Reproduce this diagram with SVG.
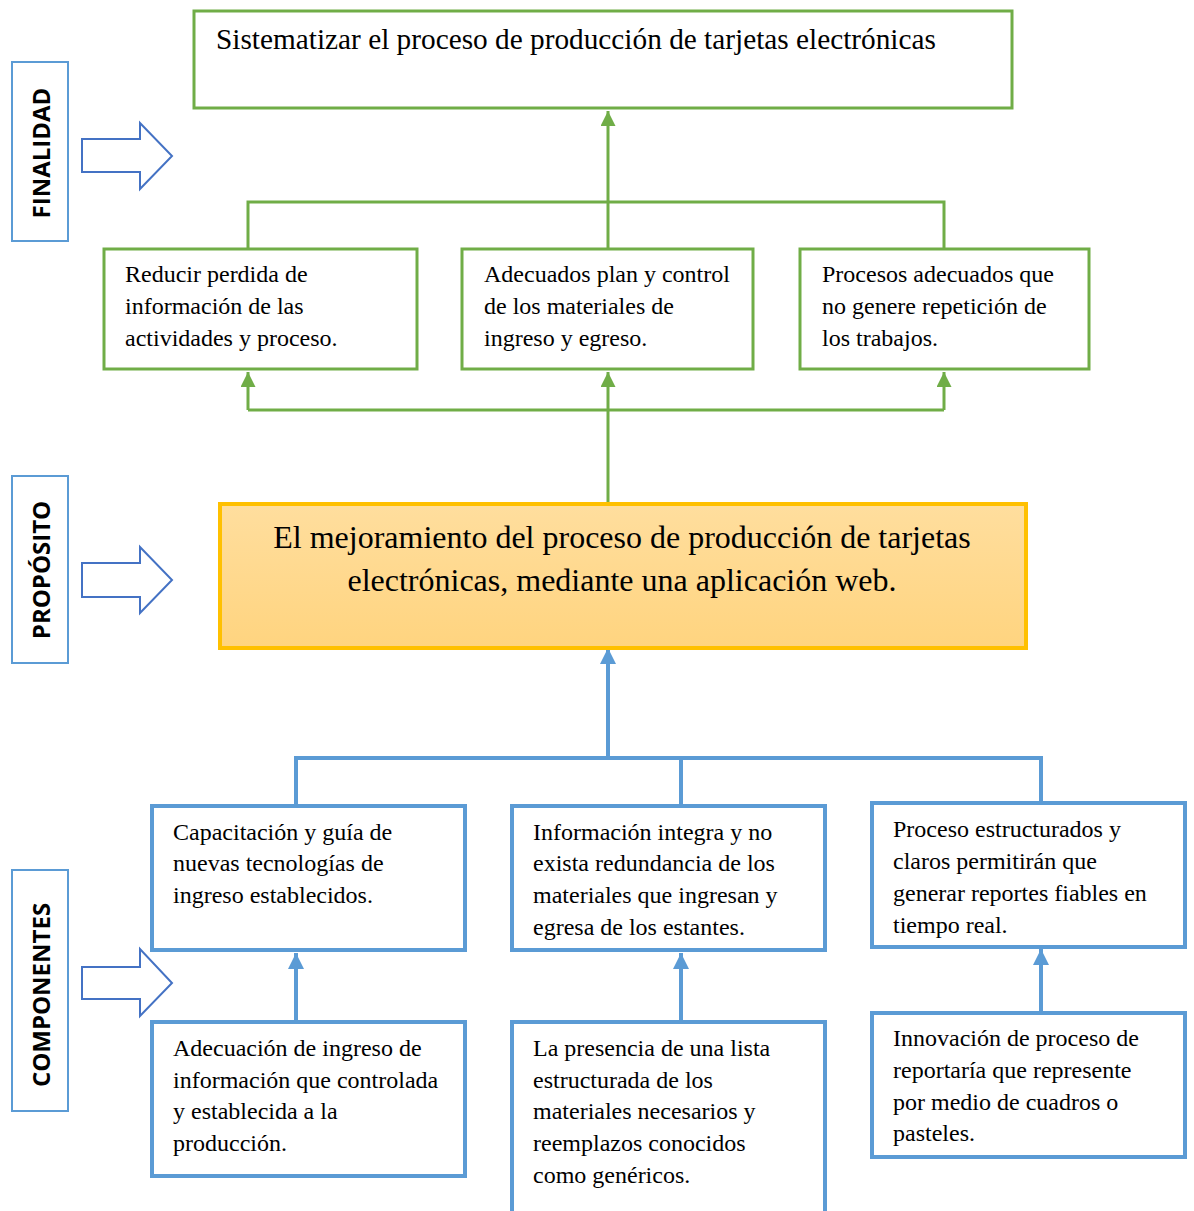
<svg xmlns="http://www.w3.org/2000/svg" width="1194" height="1211" viewBox="0 0 1194 1211">
  <style>
    .gbox { fill: #fff; stroke: #70AD47; stroke-width: 3; }
    .bbox { fill: #fff; stroke: #5B9BD5; stroke-width: 4; }
    .side { fill: #fff; stroke: #5B9BD5; stroke-width: 2; }
    .barrow { fill: #fff; stroke: #4472C4; stroke-width: 2; stroke-linejoin: miter; }
    .gline { fill: none; stroke: #70AD47; stroke-width: 3; }
    .bline { fill: none; stroke: #5B9BD5; stroke-width: 4; }
    .t { font-family: "Liberation Serif", "Times New Roman", serif; font-size: 24px; fill: #000; }
    .t-goal { font-family: "Liberation Serif", "Times New Roman", serif; font-size: 29.3px; fill: #000; }
    .t-main { font-family: "Liberation Serif", "Times New Roman", serif; font-size: 32px; fill: #000; text-anchor: middle; }
    .side-t { font-family: "Open Sans", "Liberation Sans", sans-serif; font-weight: bold; font-size: 24px; fill: #000; text-anchor: middle; }
  </style>
  <defs>
    <marker id="ga" viewBox="0 0 10 10" refX="10" refY="5" markerWidth="5" markerHeight="5" orient="auto" markerUnits="strokeWidth">
      <path d="M0,0 L10,5 L0,10 Z" fill="#70AD47"/>
    </marker>
    <marker id="ba" viewBox="0 0 10 10" refX="10" refY="5" markerWidth="4" markerHeight="4" orient="auto" markerUnits="strokeWidth">
      <path d="M0,0 L10,5 L0,10 Z" fill="#5B9BD5"/>
    </marker>
    <linearGradient id="yg" x1="0" y1="0" x2="0" y2="1">
      <stop offset="0" stop-color="#FFDE9E"/>
      <stop offset="1" stop-color="#FFD47F"/>
    </linearGradient>
  </defs>

  <!-- side labels and block arrows -->
  <g id="finalidad">
    <rect class="side" x="12" y="62" width="56" height="179"/>
    <text class="side-t" transform="translate(50,153) rotate(-90)">FINALIDAD</text>
    <path class="barrow" d="M82,139 H140 V123 L172,156 L140,189 V172 H82 Z"/>
  </g>
  <g id="proposito">
    <rect class="side" x="12" y="476" width="56" height="187"/>
    <text class="side-t" transform="translate(50,570) rotate(-90)">PROPÓSITO</text>
    <path class="barrow" d="M82,563 H140 V547 L172,580 L140,613 V597 H82 Z"/>
  </g>
  <g id="componentes">
    <rect class="side" x="12" y="870" width="56" height="241"/>
    <text class="side-t" transform="translate(50,995) rotate(-90)">COMPONENTES</text>
    <path class="barrow" d="M82,967 H140 V949 L172,983 L140,1016 V999 H82 Z"/>
  </g>

  <!-- connectors -->
  <g id="connectors">
    <!-- green: purpose to ends -->
    <path class="gline" d="M608,504 V372" marker-end="url(#ga)"/>
    <path class="gline" d="M248,410 H944"/>
    <path class="gline" d="M248,410 V372" marker-end="url(#ga)"/>
    <path class="gline" d="M944,410 V372" marker-end="url(#ga)"/>
    <path class="gline" d="M608,249 V111" marker-end="url(#ga)"/>
    <path class="gline" d="M248,249 V202 H944 V249"/>
    <!-- blue: components to purpose -->
    <path class="bline" d="M608,760 V648" marker-end="url(#ba)"/>
    <path class="bline" d="M296,806 V758 H1041 V803"/>
    <path class="bline" d="M681,758 V806"/>
    <path class="bline" d="M296,1022 V953" marker-end="url(#ba)"/>
    <path class="bline" d="M681,1022 V953" marker-end="url(#ba)"/>
    <path class="bline" d="M1041,1013 V949" marker-end="url(#ba)"/>
  </g>

  <!-- goal -->
  <g id="goal">
    <rect class="gbox" x="194" y="11" width="818" height="97"/>
    <text class="t-goal" x="216" y="49">Sistematizar el proceso de producción de tarjetas electrónicas</text>
  </g>

  <!-- purposes -->
  <g id="purpose-1">
    <rect class="gbox" x="104" y="249" width="313" height="120"/>
    <text class="t" x="125" y="282">Reducir perdida de</text>
    <text class="t" x="125" y="314">información de las</text>
    <text class="t" x="125" y="346">actividades y proceso.</text>
  </g>
  <g id="purpose-2">
    <rect class="gbox" x="462" y="249" width="291" height="120"/>
    <text class="t" x="484" y="282">Adecuados plan y control</text>
    <text class="t" x="484" y="314">de los materiales de</text>
    <text class="t" x="484" y="346">ingreso y egreso.</text>
  </g>
  <g id="purpose-3">
    <rect class="gbox" x="800" y="249" width="289" height="120"/>
    <text class="t" x="822" y="282">Procesos adecuados que</text>
    <text class="t" x="822" y="314">no genere repetición de</text>
    <text class="t" x="822" y="346">los trabajos.</text>
  </g>

  <!-- main purpose -->
  <g id="main">
    <rect x="220" y="504" width="806" height="144" fill="url(#yg)" stroke="#FFC000" stroke-width="4"/>
    <text class="t-main" x="622" y="548">El mejoramiento del proceso de producción de tarjetas</text>
    <text class="t-main" x="622" y="591">electrónicas, mediante una aplicación web.</text>
  </g>

  <!-- components -->
  <g id="comp-1">
    <rect class="bbox" x="152" y="806" width="313" height="144"/>
    <text class="t" x="173" y="840">Capacitación y guía de</text>
    <text class="t" x="173" y="871">nuevas tecnologías de</text>
    <text class="t" x="173" y="903">ingreso establecidos.</text>
  </g>
  <g id="comp-2">
    <rect class="bbox" x="512" y="806" width="313" height="144"/>
    <text class="t" x="533" y="840">Información integra y no</text>
    <text class="t" x="533" y="871">exista redundancia de los</text>
    <text class="t" x="533" y="903">materiales que ingresan y</text>
    <text class="t" x="533" y="935">egresa de los estantes.</text>
  </g>
  <g id="comp-3">
    <rect class="bbox" x="872" y="803" width="313" height="144"/>
    <text class="t" x="893" y="837">Proceso estructurados y</text>
    <text class="t" x="893" y="869">claros permitirán que</text>
    <text class="t" x="893" y="901">generar reportes fiables en</text>
    <text class="t" x="893" y="933">tiempo real.</text>
  </g>

  <!-- activities -->
  <g id="act-1">
    <rect class="bbox" x="152" y="1022" width="313" height="154"/>
    <text class="t" x="173" y="1056">Adecuación de ingreso de</text>
    <text class="t" x="173" y="1088">información que controlada</text>
    <text class="t" x="173" y="1119">y establecida a la</text>
    <text class="t" x="173" y="1151">producción.</text>
  </g>
  <g id="act-2">
    <rect class="bbox" x="512" y="1022" width="313" height="200"/>
    <text class="t" x="533" y="1056">La presencia de una lista</text>
    <text class="t" x="533" y="1088">estructurada de los</text>
    <text class="t" x="533" y="1119">materiales necesarios y</text>
    <text class="t" x="533" y="1151">reemplazos conocidos</text>
    <text class="t" x="533" y="1183">como genéricos.</text>
  </g>
  <g id="act-3">
    <rect class="bbox" x="872" y="1013" width="313" height="144"/>
    <text class="t" x="893" y="1046">Innovación de proceso de</text>
    <text class="t" x="893" y="1078">reportaría que represente</text>
    <text class="t" x="893" y="1110">por medio de cuadros o</text>
    <text class="t" x="893" y="1141">pasteles.</text>
  </g>
</svg>
